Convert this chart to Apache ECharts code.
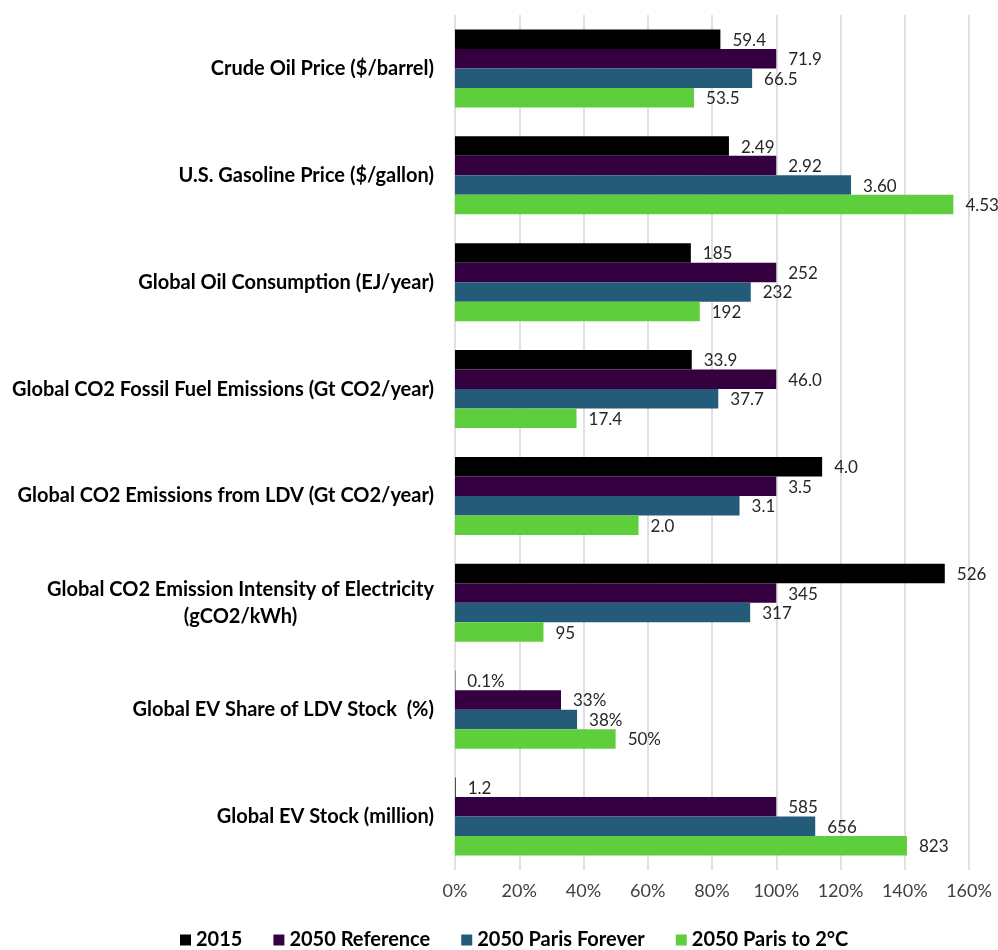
<!DOCTYPE html>
<html>
<head>
<meta charset="utf-8">
<style>
  html, body { margin: 0; padding: 0; background: #ffffff; }
  #chart { width: 998px; height: 950px; }
</style>
<script src="https://cdn.jsdelivr.net/npm/echarts@6/dist/echarts.min.js"></script>
</head>
<body>
<div id="chart"></div>
<script>
// Indicators, top to bottom
const indicators = [
  'Crude Oil Price ($/barrel)',
  'U.S. Gasoline Price ($/gallon)',
  'Global Oil Consumption (EJ/year)',
  'Global CO2 Fossil Fuel Emissions (Gt CO2/year)',
  'Global CO2 Emissions from LDV (Gt CO2/year)',
  'Global CO2 Emission Intensity of Electricity\n(gCO2/kWh)',
  'Global EV Share of LDV Stock  (%)',
  'Global EV Stock (million)'
];

// Values as printed beside each bar
const v2015          = ['59.4', '2.49', '185', '33.9', '4.0', '526', '0.1%', '1.2'];
const v2050Reference = ['71.9', '2.92', '252', '46.0', '3.5', '345', '33%',  '585'];
const v2050Forever   = ['66.5', '3.60', '232', '37.7', '3.1', '317', '38%',  '656'];
const v2050Paris2C   = ['53.5', '4.53', '192', '17.4', '2.0', '95',  '50%',  '823'];

// The EV share row is already a share and is plotted directly;
// every other row is plotted relative to the 2050 Reference value.
const isShare = [false, false, false, false, false, false, true, false];

const seriesNames  = ['2015', '2050 Reference', '2050 Paris Forever', '2050 Paris to 2°C'];
const seriesValues = [v2015, v2050Reference, v2050Forever, v2050Paris2C];
const seriesColors = ['#000000', '#350040', '#245b79', '#5fce3c'];

const xTicks = { min: 0, max: 1.6, step: 0.2 };

const FONT = 'Lato';
const CAT_SIZE = 20;

function plotted(text, i) {
  const v = parseFloat(text);
  return isShare[i] ? v / 100 : v / parseFloat(v2050Reference[i]);
}

// width of the first line of the wrapped label, so its second line can be centred under it
const ctx = document.createElement('canvas').getContext('2d');
ctx.font = 'bold ' + CAT_SIZE + 'px ' + FONT;
const wrapWidth = Math.ceil(ctx.measureText(indicators[5].split('\n')[0]).width);

const chart = echarts.init(document.getElementById('chart'), null, { renderer: 'canvas' });

chart.setOption({
  backgroundColor: '#ffffff',
  animation: false,
  textStyle: { fontFamily: FONT },
  grid: { left: 455, right: 29, top: 15, bottom: 80, containLabel: false },
  legend: {
    data: seriesNames,
    bottom: 0,
    left: 180,
    padding: 0,
    icon: 'rect',
    itemWidth: 11,
    itemHeight: 11,
    itemGap: 31,
    textStyle: { fontFamily: FONT, fontWeight: 'bold', fontSize: 20, color: '#000000' }
  },
  xAxis: {
    type: 'value',
    min: xTicks.min,
    max: xTicks.max,
    interval: xTicks.step,
    axisLine: { show: false },
    axisTick: { show: false },
    splitLine: { show: true, lineStyle: { color: '#d6d6d6', width: 1.5 } },
    axisLabel: {
      margin: 12,
      fontSize: 18,
      color: '#404040',
      fontFamily: FONT,
      formatter: v => Math.round(v * 100) + '%'
    }
  },
  yAxis: {
    type: 'category',
    inverse: true,
    data: indicators,
    axisLine: { show: false },
    axisTick: { show: false },
    axisLabel: {
      margin: 21,
      formatter: (val) => {
        if (val.indexOf('\n') >= 0) {
          return val.split('\n').map(s => '{w|' + s + '}').join('\n');
        }
        return '{n|' + val + '}';
      },
      rich: {
        n: { fontFamily: FONT, fontWeight: 'bold', fontSize: CAT_SIZE, color: '#000000' },
        w: { fontFamily: FONT, fontWeight: 'bold', fontSize: CAT_SIZE, color: '#000000',
             width: wrapWidth, align: 'center', lineHeight: 27 }
      }
    }
  },
  series: seriesNames.map((name, s) => ({
    name: name,
    type: 'bar',
    barGap: '0%',
    barCategoryGap: '27%',
    itemStyle: { color: seriesColors[s] },
    data: seriesValues[s].map((t, i) => ({ value: plotted(t, i), text: t })),
    label: {
      show: true,
      position: 'right',
      distance: 12,
      offset: [0, 1],
      fontFamily: FONT,
      fontSize: 17,
      color: '#262626',
      formatter: p => p.data.text
    }
  }))
});
</script>
</body>
</html>
